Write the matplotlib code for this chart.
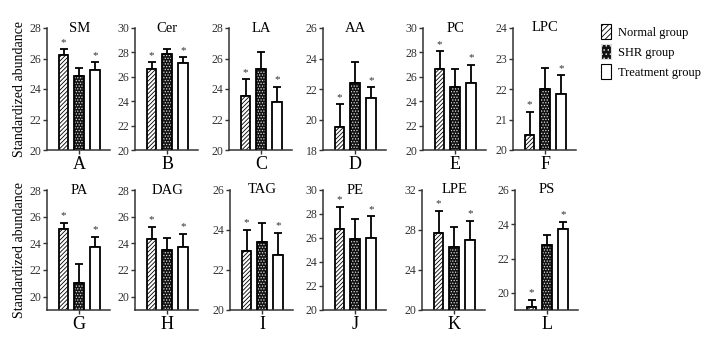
import matplotlib
matplotlib.use("Agg")
import matplotlib.pyplot as plt
from matplotlib.patches import Patch

plt.rcParams['font.family'] = ['Liberation Serif', 'DejaVu Serif']
plt.rcParams['hatch.linewidth'] = 0.6

# lipid classes, panel letters
names = ["SM", "Cer", "LA", "AA", "PC", "LPC",
         "PA", "DAG", "TAG", "PE", "LPE", "PS"]
letters = ["A", "B", "C", "D", "E", "F", "G", "H", "I", "J", "K", "L"]
groups = ["Normal group", "SHR group", "Treatment group"]

# mean values (Normal, SHR, Treatment)
means = [
    [26.25, 24.85, 25.25],
    [26.65, 27.85, 27.15],
    [23.55, 25.30, 23.15],
    [19.50, 22.40, 21.40],
    [26.65, 25.15, 25.50],
    [20.50, 22.00, 21.85],
    [25.05, 21.00, 23.70],
    [24.30, 23.50, 23.70],
    [22.95, 23.40, 22.75],
    [26.75, 25.90, 26.00],
    [27.75, 26.30, 27.00],
    [19.20, 22.80, 23.75],
]
# upper error (SD)
errs = [
    [0.35, 0.50, 0.50],
    [0.55, 0.45, 0.45],
    [1.10, 1.15, 1.00],
    [1.50, 1.35, 0.70],
    [1.45, 1.50, 1.50],
    [0.75, 0.68, 0.60],
    [0.50, 1.45, 0.80],
    [0.95, 0.90, 1.00],
    [1.05, 0.95, 1.10],
    [1.85, 1.65, 1.80],
    [2.20, 2.00, 1.90],
    [0.40, 0.55, 0.40],
]
# significance marks (Normal, SHR, Treatment)
stars = [True, False, True]

ylims = [(20, 28), (20, 30), (20, 28), (18, 26), (20, 30), (20, 24),
         (19, 28), (19, 28), (20, 26), (20, 30), (20, 32), (19, 26)]
yticks = [[20, 22, 24, 26, 28], [20, 22, 24, 26, 28, 30], [20, 22, 24, 26, 28],
          [18, 20, 22, 24, 26], [20, 22, 24, 26, 28, 30], [20, 21, 22, 23, 24],
          [20, 22, 24, 26, 28], [20, 22, 24, 26, 28], [20, 22, 24, 26],
          [20, 22, 24, 26, 28, 30], [20, 24, 28, 32], [20, 22, 24, 26]]

W, H = 709, 337
lefts_px = [47, 135, 229, 323, 423, 513, 47, 135, 230, 323, 422, 515]
axis_color = "#333333"

fig = plt.figure(figsize=(W / 100, H / 100), dpi=100)

for i in range(12):
    if i < 6:
        top, bot = 28, 150
    else:
        top, bot = 190, 310
    ax = fig.add_axes([lefts_px[i] / W, 1 - bot / H, 63 / W, (bot - top) / H])
    x = [0, 1, 2]
    m = means[i]
    # normal: dense diagonal lines
    ax.bar(x[0], m[0], width=0.62, color="white", edgecolor="black",
           linewidth=1.3, hatch="////////", zorder=2)
    # SHR: dark with light dots
    ax.bar(x[1], m[1], width=0.62, color="#111111", edgecolor="#dddddd",
           linewidth=0, hatch="......", zorder=2)
    ax.bar(x[1], m[1], width=0.62, color="none", edgecolor="black",
           linewidth=1.3, zorder=3)
    # treatment: empty
    ax.bar(x[2], m[2], width=0.62, color="white", edgecolor="black",
           linewidth=1.3, zorder=2)
    ax.errorbar(x, m, yerr=[[0, 0, 0], errs[i]], fmt="none",
                ecolor="black", elinewidth=1.3, capsize=3, capthick=1.3, zorder=1)
    rng = ylims[i][1] - ylims[i][0]
    for j in range(3):
        if stars[j]:
            ax.text(x[j], m[j] + errs[i][j] + rng * 0.02, "*",
                    ha="center", va="bottom", fontsize=8, color="#333333")
    ax.set_ylim(ylims[i])
    ax.set_xlim(-1.05, 2.95)
    ax.set_yticks(yticks[i])
    ax.set_xticks([1])
    ax.set_xticklabels([letters[i]], fontsize=13)
    ax.tick_params(axis="y", labelsize=8.5, length=3, width=1,
                   colors=axis_color, pad=1)
    ax.tick_params(axis="x", length=3, width=1, colors=axis_color, pad=1,
                   labelcolor="black")
    for s in ["top", "right"]:
        ax.spines[s].set_visible(False)
    for s in ["left", "bottom"]:
        ax.spines[s].set_color(axis_color)
        ax.spines[s].set_linewidth(1.1)
    ax.text(1, ylims[i][1], names[i], ha="center", va="center", fontsize=10.5)

fig.text(20 / W, 1 - 89 / H, "Standardized abundance", rotation=90,
         ha="center", va="center", fontsize=10)
fig.text(20 / W, 1 - 250 / H, "Standardized abundance", rotation=90,
         ha="center", va="center", fontsize=10)

handles = [
    Patch(facecolor="white", edgecolor="black", hatch="//////",
          linewidth=0.8, label=groups[0]),
    Patch(facecolor="#111111", edgecolor="#dddddd", hatch="....",
          linewidth=0.8, label=groups[1]),
    Patch(facecolor="white", edgecolor="black", linewidth=0.8, label=groups[2]),
]
fig.legend(handles=handles, loc="upper left",
           bbox_to_anchor=(590 / W, 1 - 13 / H), frameon=False,
           fontsize=9, handlelength=0.8, handleheight=1.4,
           handletextpad=0.5, labelspacing=0.45)

fig.savefig("out.png", dpi=100)
